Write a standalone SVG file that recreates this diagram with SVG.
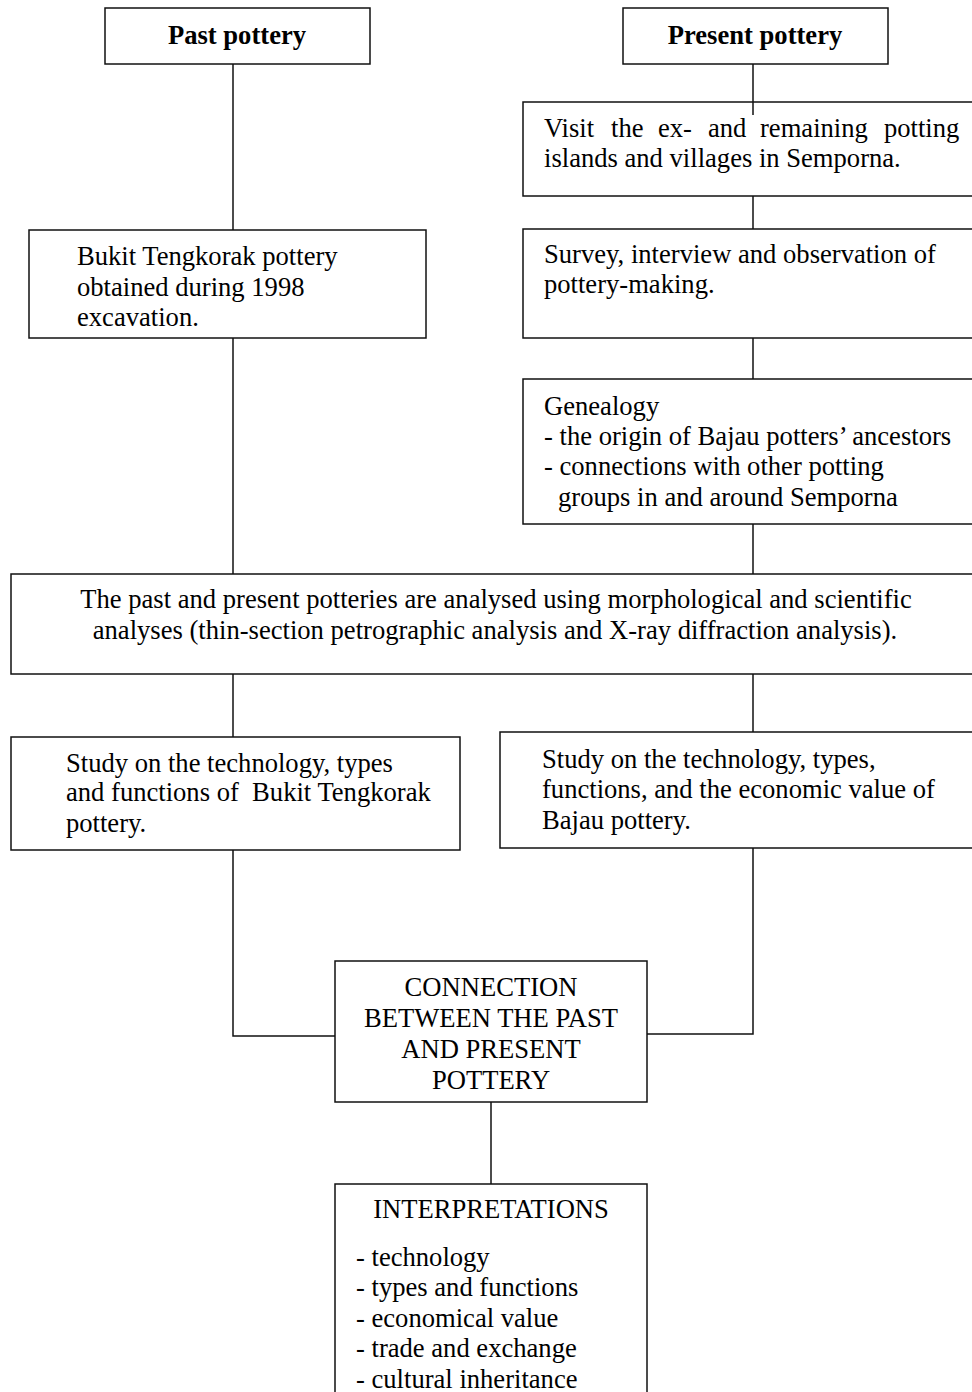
<svg xmlns="http://www.w3.org/2000/svg" width="972" height="1392" viewBox="0 0 972 1392">
<style>
rect{fill:#fff;stroke:#111;stroke-width:1.5}
.c line,.c polyline{stroke:#111;stroke-width:1.5;fill:none}
text{font-family:"Liberation Serif","Times New Roman",serif;font-size:26.6px;fill:#000}
.b{font-weight:bold}
.m{text-anchor:middle}
</style>
<rect x="0" y="0" width="972" height="1392" style="fill:#fff;stroke:none"/>
<g id="n-past"><rect x="105" y="8" width="265" height="56"/><text class="b m" x="237" y="44">Past pottery</text></g>
<g id="n-present"><rect x="623" y="8" width="265" height="56"/><text class="b m" x="755" y="44">Present pottery</text></g>
<g id="n-bukit"><rect x="29" y="230" width="397" height="108"/>
<text x="77" y="265">Bukit Tengkorak pottery</text><text x="77" y="296">obtained during 1998</text><text x="77" y="326">excavation.</text></g>
<g id="n-visit"><rect x="523" y="102" width="460" height="94"/>
<text y="137"><tspan x="544">Visit</tspan><tspan x="611">the</tspan><tspan x="658">ex-</tspan><tspan x="708">and</tspan><tspan x="760">remaining</tspan><tspan x="884">potting</tspan></text>
<text x="544" y="167">islands and villages in Semporna.</text></g>
<g id="n-survey"><rect x="523" y="229" width="460" height="109"/>
<text x="544" y="263">Survey, interview and observation of</text><text x="544" y="293">pottery-making.</text></g>
<g id="n-genealogy"><rect x="523" y="379" width="460" height="145"/>
<text x="544" y="415">Genealogy</text><text x="544" y="445">- the origin of Bajau potters’ ancestors</text><text x="544" y="475">- connections with other potting</text><text x="558" y="506">groups in and around Semporna</text></g>
<g id="n-analysis"><rect x="11" y="574" width="972" height="100"/>
<text class="m" x="496" y="608">The past and present potteries are analysed using morphological and scientific</text>
<text class="m" x="495" y="639">analyses (thin-section petrographic analysis and X-ray diffraction analysis).</text></g>
<g id="n-study-past"><rect x="11" y="737" width="449" height="113"/>
<text x="66" y="772">Study on the technology, types</text><text x="66" y="801" xml:space="preserve">and functions of  Bukit Tengkorak</text><text x="66" y="832">pottery.</text></g>
<g id="n-study-present"><rect x="500" y="732" width="483" height="116"/>
<text x="542" y="768">Study on the technology, types,</text><text x="542" y="798">functions, and the economic value of</text><text x="542" y="829">Bajau pottery.</text></g>
<g id="n-connection"><rect x="335" y="961" width="312" height="141"/>
<text class="m" x="491" y="996">CONNECTION</text><text class="m" x="491" y="1027">BETWEEN THE PAST</text><text class="m" x="491" y="1058">AND PRESENT</text><text class="m" x="491" y="1089">POTTERY</text></g>
<g id="n-interpretations"><rect x="335" y="1184" width="312" height="220"/>
<text class="m" x="491" y="1218">INTERPRETATIONS</text>
<text x="356" y="1266">- technology</text><text x="356" y="1296">- types and functions</text><text x="356" y="1327">- economical value</text><text x="356" y="1357">- trade and exchange</text><text x="356" y="1388">- cultural inheritance</text></g>
<g id="connectors" class="c">
<line x1="233" y1="64" x2="233" y2="230"/>
<line x1="753" y1="64" x2="753" y2="115"/>
<line x1="753" y1="196" x2="753" y2="229"/>
<line x1="753" y1="338" x2="753" y2="379"/>
<line x1="753" y1="524" x2="753" y2="574"/>
<line x1="233" y1="338" x2="233" y2="574"/>
<line x1="233" y1="674" x2="233" y2="737"/>
<line x1="753" y1="674" x2="753" y2="732"/>
<polyline points="233,850 233,1036 335,1036"/>
<polyline points="753,848 753,1034 647,1034"/>
<line x1="491" y1="1102" x2="491" y2="1184"/>
</g>
</svg>
